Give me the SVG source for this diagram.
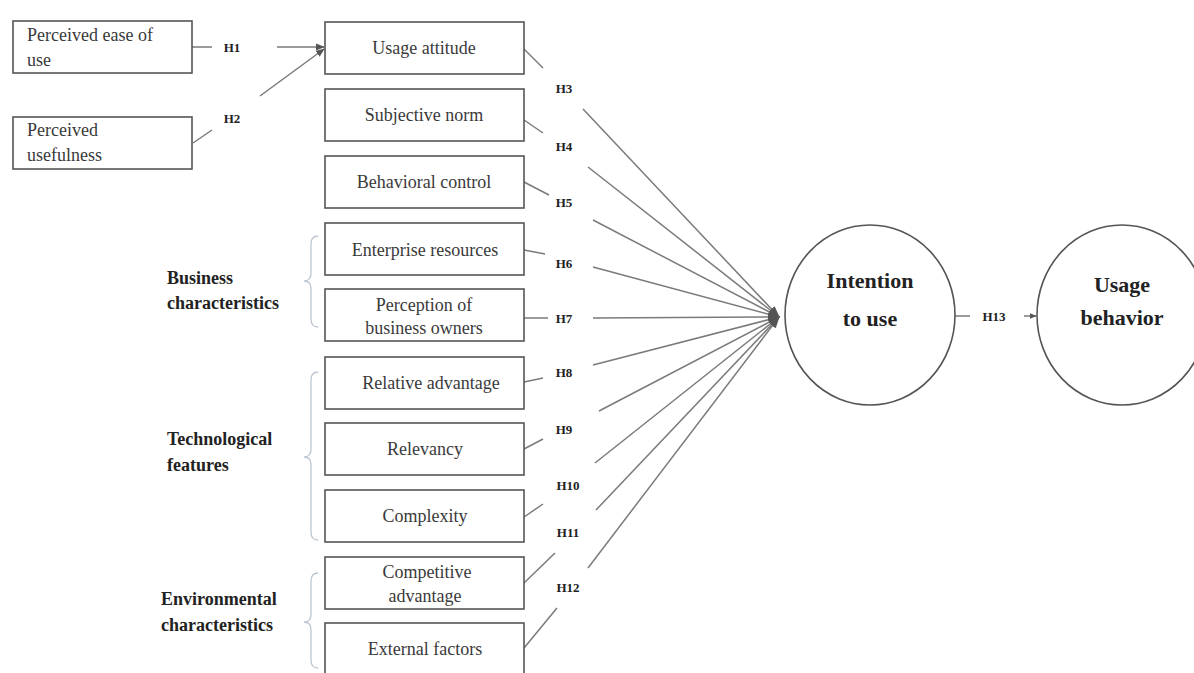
<svg xmlns="http://www.w3.org/2000/svg" width="1194" height="673" viewBox="0 0 1194 673">
<style>
.box{fill:#fff;stroke:#555;stroke-width:1.6}
.t{font-family:"Liberation Serif","Times New Roman",serif;font-size:18px;fill:#3a3a3a}
.c{text-anchor:middle}
.g{font-family:"Liberation Serif","Times New Roman",serif;font-size:18px;font-weight:bold;fill:#222}
.h{font-family:"Liberation Serif","Times New Roman",serif;font-size:13px;font-weight:bold;fill:#222;text-anchor:middle}
.big{font-family:"Liberation Serif","Times New Roman",serif;font-size:22px;font-weight:bold;fill:#222;text-anchor:middle}
.ln{stroke:#7a7a7a;stroke-width:1.5;fill:none}
.br{stroke:#bcc6d3;stroke-width:1.3;fill:none}
.circ{fill:#fff;stroke:#555;stroke-width:1.6}
</style>
<defs>
<marker id="ah" viewBox="0 0 10 10" refX="9" refY="5" markerWidth="9" markerHeight="9" markerUnits="userSpaceOnUse" orient="auto">
<path d="M0,1 L10,5 L0,9 z" fill="#555"/>
</marker>
<marker id="ah2" viewBox="0 0 10 10" refX="9" refY="5" markerWidth="12" markerHeight="12" markerUnits="userSpaceOnUse" orient="auto">
<path d="M0,1.5 L10,5 L0,8.5 z" fill="#555"/>
</marker>
<marker id="ah3" viewBox="0 0 10 10" refX="9" refY="5" markerWidth="7" markerHeight="7" markerUnits="userSpaceOnUse" orient="auto">
<path d="M0,1 L10,5 L0,9 z" fill="#555"/>
</marker>
</defs>

<g id="connectors">
<line class="ln" x1="192" y1="47" x2="212" y2="47"/>
<line class="ln" x1="277" y1="47" x2="324" y2="47" marker-end="url(#ah)"/>
<line class="ln" x1="193" y1="143" x2="212" y2="130"/>
<line class="ln" x1="260" y1="96" x2="324" y2="49" marker-end="url(#ah)"/>
<text class="h" x="232" y="52">H1</text>
<text class="h" x="232" y="123">H2</text>

<line class="ln" x1="524" y1="49" x2="543" y2="68"/>
<line class="ln" x1="583" y1="109" x2="779" y2="317" marker-end="url(#ah2)"/>
<line class="ln" x1="524" y1="120" x2="543" y2="133"/>
<line class="ln" x1="588" y1="167" x2="779" y2="317" marker-end="url(#ah2)"/>
<line class="ln" x1="524" y1="182" x2="549" y2="195"/>
<line class="ln" x1="593" y1="220" x2="779" y2="317" marker-end="url(#ah2)"/>
<line class="ln" x1="524" y1="250" x2="545" y2="254"/>
<line class="ln" x1="593" y1="267" x2="779" y2="317" marker-end="url(#ah2)"/>
<line class="ln" x1="524" y1="318" x2="548" y2="318"/>
<line class="ln" x1="593" y1="318" x2="779" y2="317" marker-end="url(#ah2)"/>
<line class="ln" x1="524" y1="382" x2="543" y2="378"/>
<line class="ln" x1="593" y1="365" x2="779" y2="317" marker-end="url(#ah2)"/>
<line class="ln" x1="524" y1="449" x2="543" y2="439"/>
<line class="ln" x1="599" y1="411" x2="779" y2="317" marker-end="url(#ah2)"/>
<line class="ln" x1="524" y1="517" x2="543" y2="504"/>
<line class="ln" x1="595" y1="463" x2="779" y2="317" marker-end="url(#ah2)"/>
<line class="ln" x1="524" y1="583" x2="555" y2="553"/>
<line class="ln" x1="596" y1="510" x2="779" y2="317" marker-end="url(#ah2)"/>
<line class="ln" x1="524" y1="648" x2="557" y2="608"/>
<line class="ln" x1="588" y1="568" x2="779" y2="317" marker-end="url(#ah2)"/>

<text class="h" x="564" y="93">H3</text>
<text class="h" x="564" y="151">H4</text>
<text class="h" x="564" y="207">H5</text>
<text class="h" x="564" y="268">H6</text>
<text class="h" x="564" y="323">H7</text>
<text class="h" x="564" y="377">H8</text>
<text class="h" x="564" y="434">H9</text>
<text class="h" x="568" y="490">H10</text>
<text class="h" x="568" y="537">H11</text>
<text class="h" x="568" y="592">H12</text>

<line class="ln" x1="955" y1="316" x2="970" y2="316"/>
<line class="ln" x1="1024" y1="316" x2="1036" y2="316" marker-end="url(#ah3)"/>
<text class="h" x="994" y="321">H13</text>
</g>

<g id="braces">
<path class="br" d="M318,236 Q311,236 311,244 L311,273 Q311,281 304,281 Q311,281 311,289 L311,319 Q311,327 318,327"/>
<path class="br" d="M318,372 Q311,372 311,380 L311,449 Q311,457 304,457 Q311,457 311,465 L311,532 Q311,540 318,540"/>
<path class="br" d="M318,573 Q311,573 311,581 L311,614 Q311,622 304,622 Q311,622 311,630 L311,660 Q311,668 318,668"/>
</g>

<g id="group-business"><text class="g" x="167" y="284">Business</text><text class="g" x="167" y="309">characteristics</text></g>
<g id="group-tech"><text class="g" x="167" y="445">Technological</text><text class="g" x="167" y="471">features</text></g>
<g id="group-env"><text class="g" x="161" y="605">Environmental</text><text class="g" x="161" y="631">characteristics</text></g>

<g id="node-ease"><rect class="box" x="13" y="21" width="179" height="52"/><text class="t" x="27" y="41">Perceived ease of</text><text class="t" x="27" y="66">use</text></g>
<g id="node-usefulness"><rect class="box" x="13" y="117" width="179" height="52"/><text class="t" x="27" y="136">Perceived</text><text class="t" x="27" y="161">usefulness</text></g>

<g id="node-attitude"><rect class="box" x="325" y="22" width="199" height="52"/><text class="t c" x="424" y="54">Usage attitude</text></g>
<g id="node-norm"><rect class="box" x="325" y="89" width="199" height="52"/><text class="t c" x="424" y="121">Subjective norm</text></g>
<g id="node-control"><rect class="box" x="325" y="156" width="199" height="52"/><text class="t c" x="424" y="188">Behavioral control</text></g>
<g id="node-resources"><rect class="box" x="325" y="223" width="199" height="52"/><text class="t c" x="425" y="256">Enterprise resources</text></g>
<g id="node-perception"><rect class="box" x="325" y="289" width="199" height="52"/><text class="t c" x="424" y="311">Perception of</text><text class="t c" x="424" y="334">business owners</text></g>
<g id="node-relative"><rect class="box" x="325" y="357" width="199" height="52"/><text class="t c" x="431" y="389">Relative advantage</text></g>
<g id="node-relevancy"><rect class="box" x="325" y="423" width="199" height="52"/><text class="t c" x="425" y="455">Relevancy</text></g>
<g id="node-complexity"><rect class="box" x="325" y="490" width="199" height="52"/><text class="t c" x="425" y="522">Complexity</text></g>
<g id="node-competitive"><rect class="box" x="325" y="557" width="199" height="52"/><text class="t c" x="427" y="578">Competitive</text><text class="t c" x="425" y="602">advantage</text></g>
<g id="node-external"><rect class="box" x="325" y="623" width="199" height="60"/><text class="t c" x="425" y="655">External factors</text></g>

<g id="node-intention"><ellipse class="circ" cx="870" cy="315" rx="85" ry="90"/><text class="big" x="870" y="288">Intention</text><text class="big" x="870" y="326">to use</text></g>
<g id="node-behavior"><ellipse class="circ" cx="1122" cy="315" rx="85" ry="90"/><text class="big" x="1122" y="292">Usage</text><text class="big" x="1122" y="325">behavior</text></g>
</svg>
